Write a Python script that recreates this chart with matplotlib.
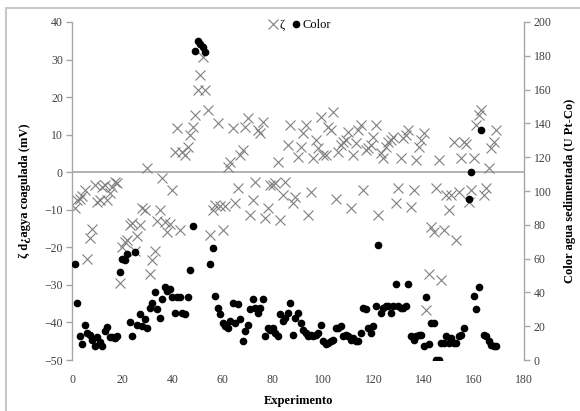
import matplotlib
matplotlib.use("Agg")
import matplotlib.pyplot as plt
from matplotlib.lines import Line2D
from matplotlib.patches import Rectangle

# ---- data ----
exp_zeta = [1, 2, 3, 4, 5, 6, 7, 8, 9, 10, 11, 12, 13, 14, 15, 16, 17, 18, 19, 20,
            21, 22, 23, 24, 25, 26, 27, 28, 29, 30, 31, 32, 33, 34, 35, 36, 37, 38, 39, 40,
            41, 42, 43, 44, 45, 46, 47, 48, 49, 50, 51, 52, 53, 54, 55, 56, 57, 58, 59, 60,
            61, 62, 63, 64, 65, 66, 67, 68, 69, 70, 71, 72, 73, 74, 75, 76, 77, 78, 79, 80,
            81, 82, 83, 84, 85, 86, 87, 88, 89, 90, 91, 92, 93, 94, 95, 96, 97, 98, 99, 100,
            101, 102, 103, 104, 105, 106, 107, 108, 109, 110, 111, 112, 113, 114, 115, 116, 117, 118, 119, 120,
            121, 122, 123, 124, 125, 126, 127, 128, 129, 130, 131, 132, 133, 134, 135, 136, 137, 138, 139, 140,
            141, 142, 143, 144, 145, 146, 147, 148, 149, 150, 151, 152, 153, 154, 155, 156, 157, 158, 159, 160,
            161, 162, 163, 164, 165, 166, 167, 168, 169]
zeta = [-9.6, -7.5, -7.0, -6.2, -4.8, -23.0, -17.6, -15.0, -3.5, -8.0, -7.5, -4.0, -3.5, -7.5, -5.6, -4.0, -2.7, -2.9, -29.5, -20.0,
        -18.7, -18.0, -14.0, -13.5, -21.0, -17.0, -14.0, -9.6, -10.0, 1.1, -27.0, -23.5, -21.0, -13.0, -10.0, -1.6, -13.3, -16.0, -13.7, -4.8,
        5.3, 11.7, -15.5, 5.3, 4.5, 6.7, 9.9, 12.0, 15.2, 22.0, 26.0, 30.6, 22.0, 16.5, -16.8, -10.1, -8.8, 13.0, -9.0, -15.5,
        -9.0, 1.4, 2.7, 11.7, -8.3, -4.3, 4.5, 5.9, 12.0, 14.4, -11.5, -7.5, -2.7, 11.2, 10.4, 13.3, -12.3, -9.6, -3.5, -3.5,
        -3.0, 2.7, -12.8, -6.1, -2.7, 7.2, 12.5, -8.3, -6.7, 4.0, 6.7, 10.4, 12.5, -11.5, -5.3, 3.7, 8.5, 6.4, 14.7, 4.5,
        4.5, 12.0, 11.2, 16.0, -7.0, 5.3, 7.2, 8.0, 8.5, 10.7, -9.6, 4.5, 7.7, 11.2, 12.5, -4.8, 5.9, 6.5, 7.2, 9.3,
        12.5, -11.5, 5.0, 3.7, 6.7, 8.0, 8.5, 9.3, -8.3, -4.3, 3.7, 9.0, 10.0, 11.2, -9.3, -4.8, 3.2, 6.7, 8.5, 10.4,
        -36.8, -27.0, -14.7, -16.0, -4.3, 3.2, -28.8, -15.5, -6.0, -10.1, -6.1, 8.0, -18.0, -5.3, 3.7, 8.0, 7.5, -8.0, -4.8, 3.7,
        12.5, 15.2, 16.5, -6.1, -4.3, 1.0, 6.4, 8.0, 11.2]

exp_color = [1, 2, 3, 4, 5, 6, 7, 8, 9, 10, 11, 12, 13, 14, 15, 16, 17, 18, 19, 20,
             21, 22, 23, 24, 25, 26, 27, 28, 29, 30, 31, 32, 33, 34, 35, 36, 37, 38, 39, 40,
             41, 42, 43, 44, 45, 46, 47, 48, 49, 50, 51, 52, 53, 55, 56, 57, 58, 59, 60,
             61, 62, 63, 64, 65, 66, 67, 68, 69, 70, 71, 72, 73, 74, 75, 76, 77, 78, 79, 80,
             81, 82, 83, 84, 85, 86, 87, 88, 89, 90, 91, 92, 93, 94, 95, 96, 97, 98, 99, 100,
             101, 102, 103, 104, 105, 106, 107, 108, 109, 110, 111, 112, 113, 114, 115, 116, 117, 118, 119, 120,
             121, 122, 123, 124, 125, 126, 127, 128, 129, 130, 131, 132, 133, 134, 135, 136, 137, 138, 139, 140,
             141, 142, 143, 144, 145, 146, 147, 148, 149, 150, 151, 152, 153, 154, 155, 156, 158, 159, 160,
             161, 162, 163, 164, 165, 166, 167, 168, 169]
color = [57, 34, 14, 9.5, 21, 16, 15, 12, 8, 13.6, 10.7, 8, 17, 19.5, 13.6, 13.6, 13, 14, 52, 60,
         59, 63, 22.5, 14, 64, 21, 27, 20, 24, 19, 31, 34, 40, 30, 25, 36, 43, 41, 42, 37,
         28, 37, 37, 28, 27, 37, 53, 79, 183, 189, 187, 185, 182, 57, 66, 38, 31, 27, 22,
         20, 19, 23, 34, 22, 33, 24, 11, 17, 21, 30, 36, 31, 28, 31, 36, 14, 19, 18, 19,
         16, 14, 27, 23, 25, 28, 34, 15, 25, 28, 22, 18, 16, 14, 15, 14, 15, 16, 21, 11,
         9.5, 10, 11, 12, 19, 19, 20, 14, 15, 14, 12, 13, 11, 11, 16, 31, 30, 19, 16, 20,
         32, 68, 28, 31, 32, 32, 28, 32, 45, 32, 31, 31, 32, 45, 14, 12, 14, 15, 15, 8,
         37, 9.5, 22, 22, 0, 0, 10, 10, 14, 10, 13, 10, 10, 14, 15, 19, 95, 111, 38,
         30, 43, 136, 15, 14, 11, 9, 8.5, 8]

xticks = list(range(0, 181, 20))
zeta_ticks = list(range(-50, 41, 10))
color_ticks = list(range(0, 201, 20))

# ---- style ----
plt.rcParams['font.family'] = ['Liberation Serif', 'DejaVu Serif']
grey_line = '#a6a6a6'
tick_col = '#404040'

fig = plt.figure(figsize=(5.8, 4.11), dpi=100)
fig.patches.append(Rectangle((6 / 580, -0.02), 1.1, 1 - 8 / 411 + 0.02,
                             transform=fig.transFigure, fill=False,
                             edgecolor='#c8c8c8', linewidth=1.5))

ax = fig.add_axes([72 / 580, 1 - 360 / 411, 452 / 580, 338 / 411])
ax.set_facecolor('none')
ax.set_xlim(0, 180)
ax.set_ylim(-50, 40)
ax.set_xticks(xticks)
ax.set_yticks(zeta_ticks)
for s in ['top', 'bottom', 'right']:
    ax.spines[s].set_visible(False)
ax.spines['left'].set_color(grey_line)
ax.spines['left'].set_linewidth(1.0)
ax.axhline(0, color=grey_line, linewidth=1.2, zorder=1)
ax.tick_params(axis='x', length=0, pad=10, labelsize=8.5, labelcolor=tick_col)
ax.tick_params(axis='y', direction='out', length=4, width=1, color=grey_line,
               pad=2.5, labelsize=8.5, labelcolor=tick_col)

ax.plot(exp_zeta, zeta, linestyle='none', marker='x', markersize=7,
        markeredgewidth=0.8, color='#7f7f7f', zorder=2)

ax2 = ax.twinx()
ax2.set_ylim(0, 200)
ax2.set_yticks(color_ticks)
for s in ['top', 'bottom', 'left']:
    ax2.spines[s].set_visible(False)
ax2.spines['right'].set_color(grey_line)
ax2.spines['right'].set_linewidth(1.0)
ax2.tick_params(axis='y', direction='out', length=4, width=1, color=grey_line,
                pad=3, labelsize=8.5, labelcolor=tick_col)
ax2.plot(exp_color, color, linestyle='none', marker='o', markersize=4.5,
         color='black', zorder=3)

ax.set_ylabel('ζ d¿agya coagulada (mV)', fontsize=9, fontweight='bold')
ax.yaxis.set_label_coords(-0.09, 0.5)
ax2.set_ylabel('Color agua sedimentada (U Pt-Co)', fontsize=9, fontweight='bold')
ax2.yaxis.set_label_coords(1.088, 0.5)
ax.set_xlabel('Experimento', fontsize=9, fontweight='bold')
ax.xaxis.set_label_coords(0.5, -0.105)

handles = [Line2D([], [], linestyle='none', marker='x', markersize=7,
                  markeredgewidth=0.8, color='#7f7f7f'),
           Line2D([], [], linestyle='none', marker='o', markersize=4.5, color='black')]
fig.legend(handles, ['ζ', 'Color'], loc='center', bbox_to_anchor=(300 / 580, 1 - 25 / 411),
           ncol=2, frameon=False, fontsize=9, handlelength=0.6, handletextpad=0.2,
           columnspacing=0.6, borderpad=0)

fig.savefig('out.png', dpi=100)
